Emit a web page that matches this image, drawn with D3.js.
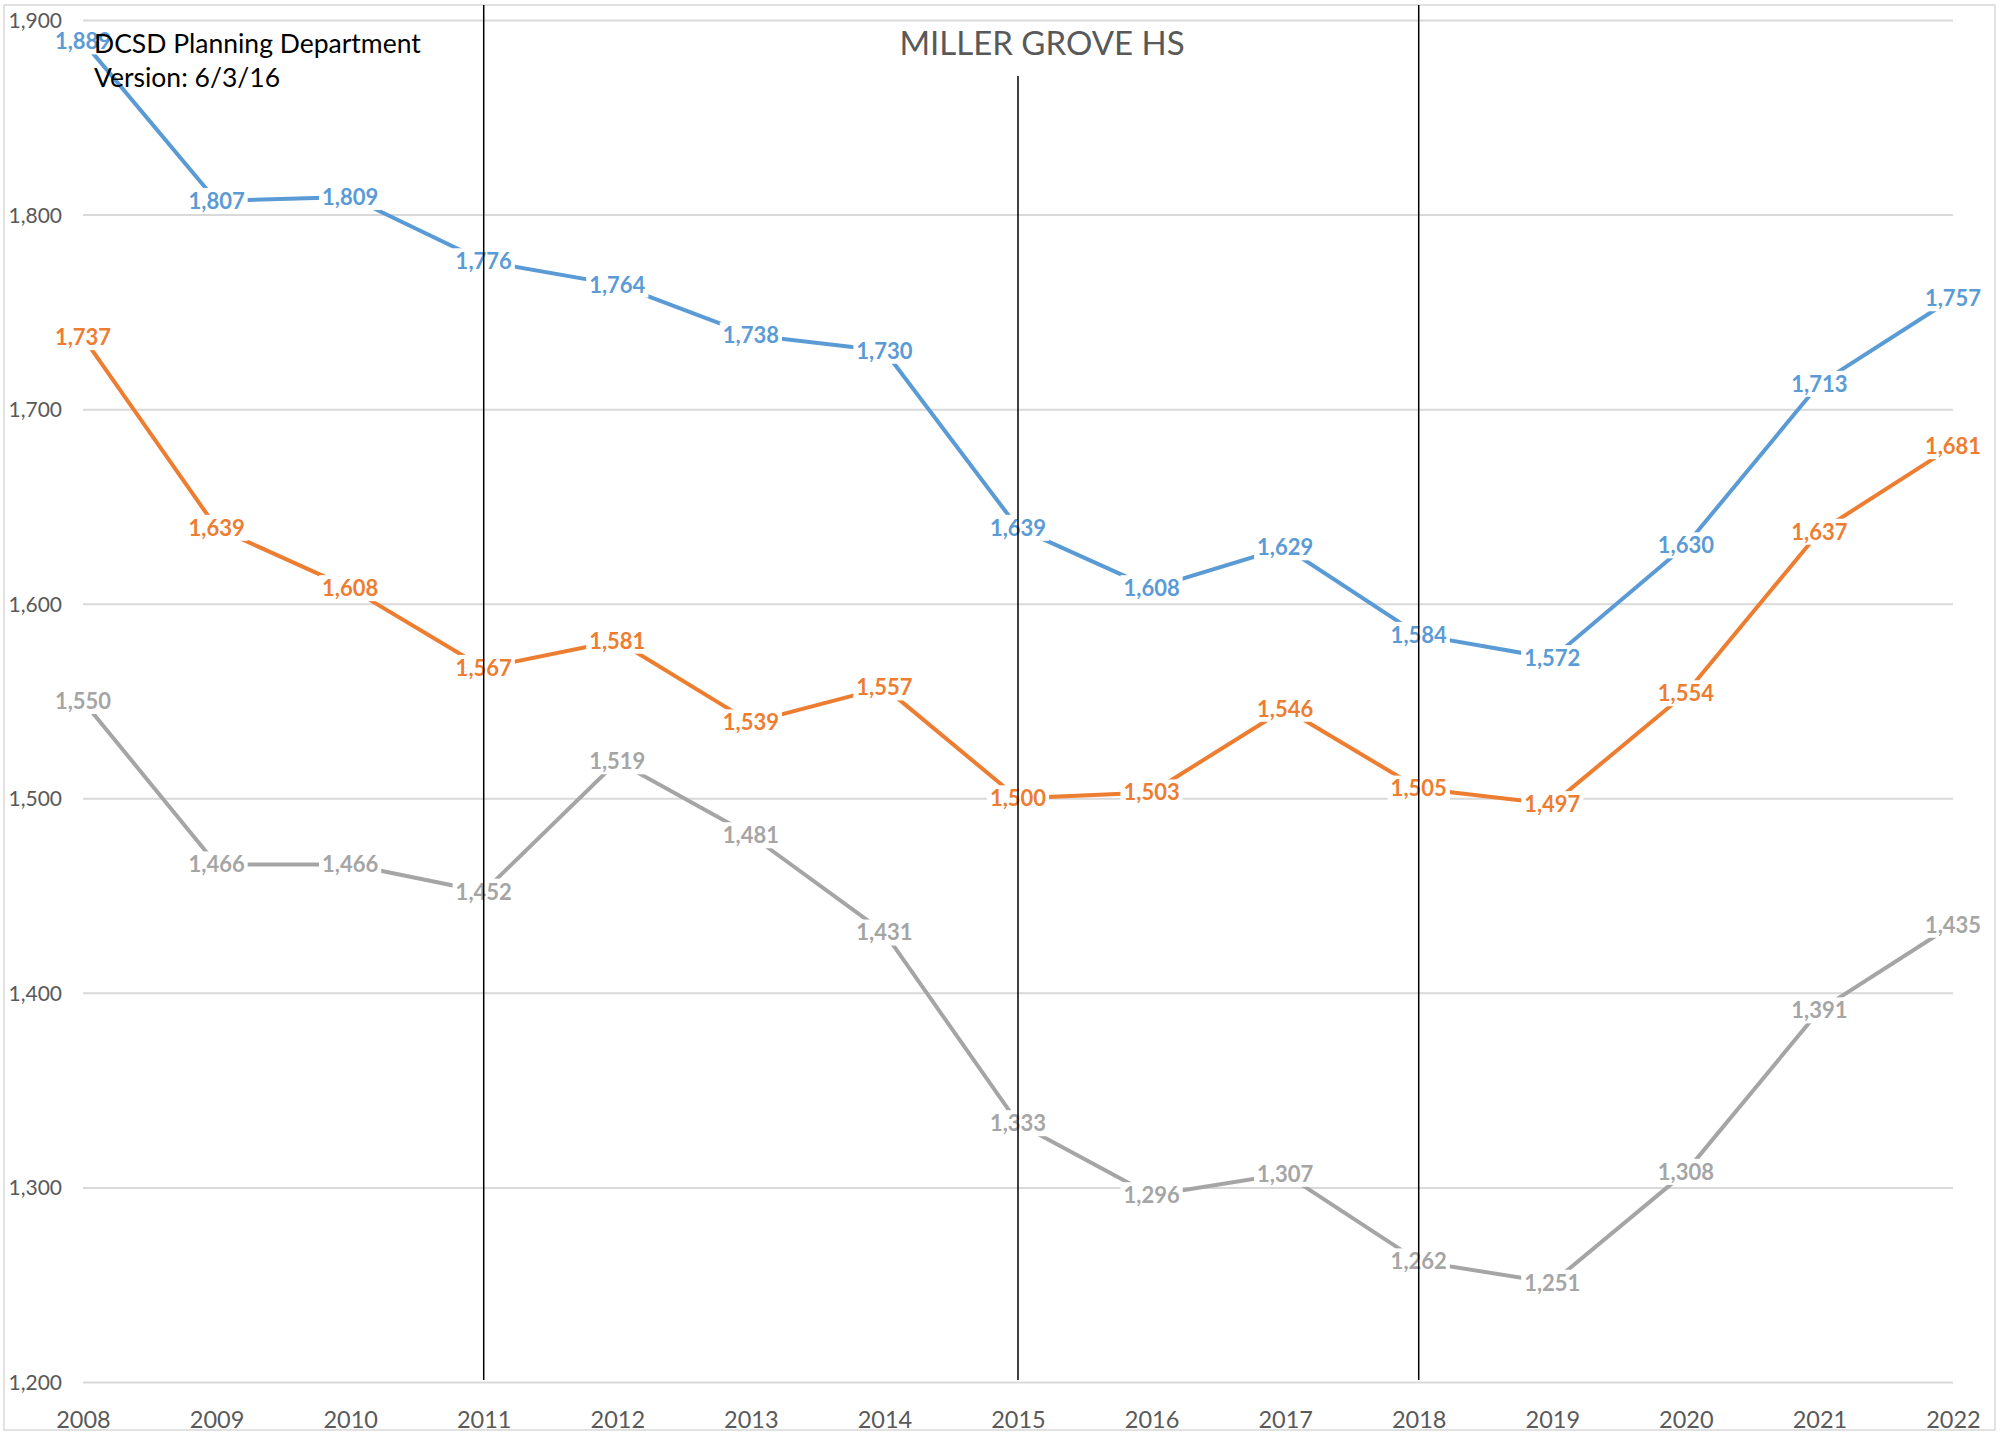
<!DOCTYPE html>
<html>
<head>
<meta charset="utf-8">
<script src="https://cdn.jsdelivr.net/npm/d3@7"></script>
<style>
  html, body { margin: 0; padding: 0; background: #fff; }
  svg { display: block; }
</style>
</head>
<body>
<svg id="chart" width="2005" height="1434"></svg>
<script>
const years = [2008, 2009, 2010, 2011, 2012, 2013, 2014, 2015, 2016, 2017, 2018, 2019, 2020, 2021, 2022];
const seriesBlue   = [1889, 1807, 1809, 1776, 1764, 1738, 1730, 1639, 1608, 1629, 1584, 1572, 1630, 1713, 1757];
const seriesOrange = [1737, 1639, 1608, 1567, 1581, 1539, 1557, 1500, 1503, 1546, 1505, 1497, 1554, 1637, 1681];
const seriesGray   = [1550, 1466, 1466, 1452, 1519, 1481, 1431, 1333, 1296, 1307, 1262, 1251, 1308, 1391, 1435];
const yTicks = [1200, 1300, 1400, 1500, 1600, 1700, 1800, 1900];
const markerYears = [2011, 2015, 2018];
const titleText = "MILLER GROVE HS";
const noteLines = ["DCSD Planning Department", "Version: 6/3/16"];

const series = [
  { name: "blue", values: seriesBlue, color: "#5B9BD5" },
  { name: "orange", values: seriesOrange, color: "#ED7D31" },
  { name: "gray", values: seriesGray, color: "#A5A5A5" }
];

const svg = d3.select("#chart");
const FONT = "Lato, 'Open Sans', sans-serif";
const plot = { left: 83, right: 1953, top: 20, bottom: 1382 };

const x = d3.scalePoint().domain(years).range([plot.left, plot.right]);
const y = d3.scaleLinear().domain([1200, 1900]).range([plot.bottom, plot.top]);

// chart border
svg.append("rect")
  .attr("x", 4).attr("y", 5).attr("width", 1991).attr("height", 1425)
  .attr("fill", "#fff").attr("stroke", "#D9D9D9").attr("stroke-width", 1.5);

// gridlines + y labels
const yAxis = d3.axisLeft(y).tickValues(yTicks).tickSize(-(plot.right - plot.left))
  .tickFormat(d3.format(","));
const gy = svg.append("g").attr("transform", `translate(${plot.left},0)`).call(yAxis);
gy.select(".domain").remove();
gy.selectAll(".tick line").attr("stroke", "#D9D9D9").attr("stroke-width", 2);
gy.selectAll(".tick text")
  .attr("x", -21).attr("dy", "0.36em")
  .attr("fill", "#595959").attr("font-family", FONT).attr("font-size", 21);

// x axis labels
const xAxis = d3.axisBottom(x).tickSize(0).tickFormat(d => d);
const gx = svg.append("g").attr("transform", `translate(0,${plot.bottom})`).call(xAxis);
gx.select(".domain").remove();
gx.selectAll(".tick text")
  .attr("y", 46).attr("dy", 0)
  .attr("fill", "#595959").attr("font-family", FONT).attr("font-size", 23.5);

// series lines
const line = d3.line().x((d, i) => x(years[i])).y(d => y(d));
series.forEach(s => {
  svg.append("path")
    .datum(s.values)
    .attr("d", line)
    .attr("fill", "none")
    .attr("stroke", s.color)
    .attr("stroke-width", 4)
    .attr("stroke-linejoin", "round");
});

// data labels with white boxes
const fmt = d3.format(",");
series.forEach(s => {
  s.values.forEach((v, i) => {
    const g = svg.append("g").attr("transform", `translate(${x(years[i])},${y(v)})`);
    const rect = g.append("rect").attr("fill", "#fff");
    const t = g.append("text")
      .attr("text-anchor", "middle")
      .attr("dy", "0.36em")
      .attr("fill", s.color)
      .attr("font-family", FONT)
      .attr("font-weight", "bold")
      .attr("font-size", 22)
      .text(fmt(v));
    const w = t.node().getComputedTextLength();
    rect.attr("x", -w / 2 - 3).attr("y", -13).attr("width", w + 6).attr("height", 26);
  });
});

// vertical marker lines
const markerTops = [5, 76, 5];
markerYears.forEach((yr, i) => {
  svg.append("line")
    .attr("x1", x(yr)).attr("x2", x(yr))
    .attr("y1", markerTops[i]).attr("y2", plot.bottom - 2)
    .attr("stroke", "#000").attr("stroke-width", 1.5);
});

// title
svg.append("text")
  .attr("x", 1042).attr("y", 55)
  .attr("text-anchor", "middle")
  .attr("fill", "#595959")
  .attr("font-family", FONT)
  .attr("font-size", 33)
  .text(titleText);

// note text
noteLines.forEach((txt, i) => {
  svg.append("text")
    .attr("x", 94).attr("y", 53 + i * 34)
    .attr("fill", "#000")
    .attr("font-family", FONT)
    .attr("font-size", 26.5)
    .text(txt);
});
</script>
</body>
</html>
